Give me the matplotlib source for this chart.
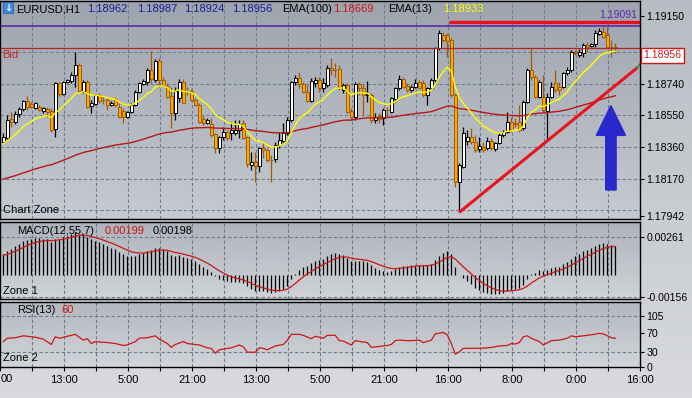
import numpy as np
import pandas as pd
import matplotlib
matplotlib.use('Agg')
import matplotlib.pyplot as plt
from matplotlib.colors import LinearSegmentedColormap
from matplotlib.patches import FancyArrow, Rectangle
from matplotlib.transforms import blended_transform_factory

W, H = 692, 398
FONT = 'Liberation Sans'
FS = 7.6
plt.rcParams['font.family'] = FONT
plt.rcParams['axes.unicode_minus'] = False

# ---- EURUSD H1 candles ----
opens = [
    1.18392, 1.18412, 1.18529, 1.18513, 1.18557, 1.18587, 1.18638, 1.18619, 1.18593, 1.18603,
    1.18579, 1.18587, 1.18579, 1.18467, 1.18744, 1.18680, 1.18754, 1.18758, 1.18794, 1.18855,
    1.18700, 1.18754, 1.18607, 1.18619, 1.18674, 1.18644, 1.18644, 1.18613, 1.18648, 1.18603,
    1.18579, 1.18543, 1.18573, 1.18613, 1.18694, 1.18740, 1.18754, 1.18824, 1.18764, 1.18881,
    1.18764, 1.18728, 1.18668, 1.18563, 1.18654, 1.18754, 1.18698, 1.18698, 1.18644, 1.18613,
    1.18527, 1.18507, 1.18499, 1.18437, 1.18352, 1.18418, 1.18449, 1.18443, 1.18447, 1.18463,
    1.18503, 1.18418, 1.18252, 1.18272, 1.18248, 1.18356, 1.18342, 1.18282, 1.18286, 1.18372,
    1.18398, 1.18443, 1.18523, 1.18750, 1.18774, 1.18738, 1.18694, 1.18640, 1.18744, 1.18764,
    1.18714, 1.18734, 1.18835, 1.18824, 1.18829, 1.18704, 1.18734, 1.18579, 1.18539, 1.18740,
    1.18714, 1.18674, 1.18674, 1.18523, 1.18547, 1.18533, 1.18583, 1.18573, 1.18650, 1.18714,
    1.18768, 1.18730, 1.18704, 1.18724, 1.18750, 1.18744, 1.18674, 1.18714, 1.18764, 1.18955,
    1.19036, 1.19036, 1.19005, 1.18674, 1.18151, 1.18242, 1.18398, 1.18422, 1.18392, 1.18346,
    1.18362, 1.18352, 1.18398, 1.18346, 1.18382, 1.18433, 1.18453, 1.18513, 1.18503, 1.18513,
    1.18473, 1.18634, 1.18824, 1.18784, 1.18664, 1.18664, 1.18579, 1.18664, 1.18744, 1.18724,
    1.18724, 1.18804, 1.18824, 1.18935, 1.18915, 1.18925, 1.18975, 1.18969, 1.18981, 1.19042,
    1.19056, 1.19036, 1.18965, 1.18962]
highs = [
    1.18443, 1.18553, 1.18573, 1.18575, 1.18599, 1.18644, 1.18668, 1.18634, 1.18634, 1.18613,
    1.18599, 1.18599, 1.18593, 1.18754, 1.18754, 1.18758, 1.18772, 1.18814, 1.18935, 1.18869,
    1.18764, 1.18764, 1.18644, 1.18680, 1.18688, 1.18668, 1.18654, 1.18640, 1.18660, 1.18623,
    1.18593, 1.18579, 1.18623, 1.18704, 1.18754, 1.18772, 1.18835, 1.18941, 1.18889, 1.18895,
    1.18780, 1.18744, 1.18724, 1.18724, 1.18768, 1.18768, 1.18724, 1.18708, 1.18654, 1.18623,
    1.18553, 1.18533, 1.18533, 1.18443, 1.18427, 1.18483, 1.18463, 1.18513, 1.18523, 1.18523,
    1.18523, 1.18427, 1.18332, 1.18332, 1.18362, 1.18392, 1.18352, 1.18312, 1.18392, 1.18453,
    1.18503, 1.18543, 1.18758, 1.18794, 1.18814, 1.18754, 1.18734, 1.18774, 1.18784, 1.18784,
    1.18774, 1.18855, 1.18895, 1.18865, 1.18855, 1.18744, 1.18744, 1.18593, 1.18754, 1.18754,
    1.18734, 1.18758, 1.18684, 1.18563, 1.18567, 1.18593, 1.18603, 1.18664, 1.18724, 1.18794,
    1.18784, 1.18744, 1.18734, 1.18768, 1.18764, 1.18764, 1.18724, 1.18774, 1.18965, 1.19066,
    1.19056, 1.19046, 1.19015, 1.18684, 1.18262, 1.18483, 1.18463, 1.18473, 1.18433, 1.18422,
    1.18392, 1.18422, 1.18412, 1.18392, 1.18453, 1.18463, 1.18573, 1.18543, 1.18533, 1.18613,
    1.18644, 1.18835, 1.18955, 1.18794, 1.18764, 1.18794, 1.18684, 1.18754, 1.18825, 1.18754,
    1.18815, 1.18845, 1.18945, 1.18945, 1.18949, 1.18985, 1.18995, 1.18989, 1.19066, 1.19076,
    1.19091, 1.19086, 1.19005, 1.18987]
lows = [
    1.18382, 1.18402, 1.18483, 1.18499, 1.18543, 1.18579, 1.18583, 1.18593, 1.18587, 1.18579,
    1.18567, 1.18543, 1.18453, 1.18422, 1.18668, 1.18672, 1.18744, 1.18748, 1.18724, 1.18694,
    1.18688, 1.18593, 1.18563, 1.18611, 1.18628, 1.18619, 1.18583, 1.18607, 1.18599, 1.18533,
    1.18503, 1.18533, 1.18563, 1.18607, 1.18688, 1.18734, 1.18734, 1.18744, 1.18754, 1.18724,
    1.18728, 1.18654, 1.18473, 1.18523, 1.18634, 1.18623, 1.18674, 1.18640, 1.18607, 1.18507,
    1.18493, 1.18499, 1.18422, 1.18322, 1.18322, 1.18402, 1.18402, 1.18402, 1.18433, 1.18412,
    1.18406, 1.18242, 1.18221, 1.18151, 1.18211, 1.18292, 1.18272, 1.18151, 1.18272, 1.18352,
    1.18382, 1.18433, 1.18513, 1.18734, 1.18714, 1.18684, 1.18634, 1.18634, 1.18724, 1.18694,
    1.18694, 1.18724, 1.18794, 1.18784, 1.18704, 1.18688, 1.18563, 1.18523, 1.18523, 1.18674,
    1.18553, 1.18634, 1.18503, 1.18503, 1.18503, 1.18493, 1.18543, 1.18563, 1.18634, 1.18704,
    1.18714, 1.18694, 1.18694, 1.18714, 1.18708, 1.18664, 1.18613, 1.18704, 1.18754, 1.18945,
    1.18995, 1.18905, 1.18664, 1.18121, 1.17970, 1.18232, 1.18372, 1.18378, 1.18332, 1.18332,
    1.18332, 1.18342, 1.18342, 1.18338, 1.18378, 1.18422, 1.18443, 1.18453, 1.18483, 1.18453,
    1.18463, 1.18623, 1.18764, 1.18654, 1.18654, 1.18573, 1.18402, 1.18654, 1.18694, 1.18674,
    1.18714, 1.18794, 1.18814, 1.18915, 1.18905, 1.18905, 1.18935, 1.18961, 1.18965, 1.19036,
    1.19015, 1.18955, 1.18905, 1.18924]
closes = [
    1.18418, 1.18523, 1.18513, 1.18557, 1.18587, 1.18638, 1.18603, 1.18599, 1.18623, 1.18583,
    1.18593, 1.18571, 1.18463, 1.18744, 1.18680, 1.18754, 1.18764, 1.18794, 1.18855, 1.18700,
    1.18754, 1.18603, 1.18623, 1.18674, 1.18638, 1.18642, 1.18613, 1.18628, 1.18613, 1.18543,
    1.18539, 1.18573, 1.18613, 1.18694, 1.18744, 1.18760, 1.18824, 1.18768, 1.18881, 1.18764,
    1.18734, 1.18664, 1.18563, 1.18698, 1.18754, 1.18628, 1.18696, 1.18644, 1.18613, 1.18513,
    1.18507, 1.18523, 1.18433, 1.18352, 1.18422, 1.18449, 1.18412, 1.18463, 1.18463, 1.18499,
    1.18412, 1.18258, 1.18268, 1.18248, 1.18352, 1.18342, 1.18282, 1.18280, 1.18372, 1.18402,
    1.18443, 1.18523, 1.18750, 1.18774, 1.18738, 1.18694, 1.18640, 1.18760, 1.18764, 1.18714,
    1.18744, 1.18835, 1.18824, 1.18822, 1.18714, 1.18734, 1.18573, 1.18539, 1.18740, 1.18714,
    1.18674, 1.18680, 1.18523, 1.18539, 1.18527, 1.18583, 1.18581, 1.18654, 1.18714, 1.18768,
    1.18724, 1.18704, 1.18724, 1.18748, 1.18714, 1.18674, 1.18714, 1.18764, 1.18955, 1.19046,
    1.19005, 1.19001, 1.18674, 1.18151, 1.18252, 1.18443, 1.18422, 1.18392, 1.18342, 1.18366,
    1.18342, 1.18398, 1.18352, 1.18382, 1.18433, 1.18453, 1.18513, 1.18463, 1.18501, 1.18463,
    1.18634, 1.18824, 1.18780, 1.18660, 1.18754, 1.18583, 1.18664, 1.18724, 1.18704, 1.18704,
    1.18804, 1.18824, 1.18935, 1.18925, 1.18935, 1.18975, 1.18965, 1.18981, 1.19046, 1.19062,
    1.19026, 1.18965, 1.18963, 1.18956]

# indicator starting levels (left edge of the chart)
ema100_start = 1.18161
ema13_start = 1.18372
fast_start, slow_start, signal_start = 1.18275, 1.18145, 0.00130

# RSI(13): candle index, value
rsi_idx = [0, 1, 3, 5, 8, 10, 12, 13, 14, 16, 18, 20, 21, 22, 23, 26, 28, 30, 31, 33,
           34, 36, 37, 38, 39, 41, 42, 43, 45, 46, 49, 51, 52, 53, 54, 56, 57, 59, 60, 61,
           63, 64, 65, 66, 68, 70, 71, 72, 74, 75, 77, 78, 80, 81, 83, 84, 85, 87, 88, 90,
           91, 92, 94, 96, 97, 98, 99, 101, 102, 104, 105, 107, 108, 110, 111, 112, 113, 114, 115, 118,
           121, 122, 124, 126, 127, 128, 129, 130, 131, 132, 134, 135, 137, 139, 141, 142, 143, 145, 147, 149,
           150, 152, 153]
rsi_val = [52, 59, 60, 64, 61, 57, 46, 62, 59, 63, 67, 55, 58, 48, 52, 50, 48, 44, 45, 52,
           59, 60, 62, 64, 57, 48, 40, 46, 52, 48, 45, 39, 38, 28, 35, 38, 39, 45, 41, 30,
           30, 39, 38, 35, 43, 46, 55, 67, 67, 65, 58, 63, 59, 65, 65, 54, 53, 45, 54, 51,
           50, 40, 42, 44, 46, 54, 55, 54, 54, 55, 50, 55, 68, 71, 66, 48, 26, 31, 38, 38,
           39, 40, 43, 44, 48, 47, 50, 62, 64, 59, 52, 45, 54, 55, 59, 64, 62, 64, 66, 69,
           68, 60, 59]

# axis texts
price_ticks = [1.17942, 1.18170, 1.18360, 1.18550, 1.18740, 1.19150]
price_grid = [1.17980, 1.18170, 1.18360, 1.18550, 1.18740, 1.18930]
macd_ticks = [-0.00156, 0.00261]
rsi_ticks = [0, 30, 70, 105]
rsi_grid = [30, 105]
time_labels = ['00', '13:00', '5:00', '21:00', '13:00', '5:00', '21:00',
               '16:00', '8:00', '0:00', '16:00']
day_high = 1.19091
hline_price = 1.19112
trend_from, trend_to = (114.2, 1.17970), (158.4, 1.18836)

# ---- indicators ----


def ema(start, span):
    return pd.Series([start] + closes).ewm(span=span, adjust=False).mean().iloc[1:].values


ema13 = ema(ema13_start, 13)
ema100 = ema(ema100_start, 100)
macd = ema(fast_start, 12) - ema(slow_start, 55)
signal = pd.Series([signal_start] + list(macd)).ewm(span=7, adjust=False).mean().iloc[1:].values

n = len(closes)
idx = np.arange(n)
o, h, l, c = map(np.array, (opens, highs, lows, closes))
XMIN, XMAX = -0.825, 159.175


def fx(px):
    return px / W


def fy(py):
    return 1 - py / H


def shade(ax, top, bottom):
    cmap = LinearSegmentedColormap.from_list('g', [top, bottom])
    ax.imshow(np.linspace(0, 1, 256).reshape(-1, 1), extent=(0, 1, 0, 1),
              transform=ax.transAxes, aspect='auto', cmap=cmap, zorder=0)


def vgrid(ax):
    for k in range(1, 20):
        ax.axvline(8 * k + XMIN, color='#6e7c92', lw=0.8, ls=(0, (3, 2)), zorder=1)


def frame(ax):
    for s in ax.spines.values():
        s.set_color('black')
        s.set_linewidth(1.0)
        s.set_zorder(10)
    ax.yaxis.tick_right()
    ax.tick_params(axis='y', direction='out', length=3, width=0.8, pad=1.5,
                   labelsize=FS, colors='black')
    ax.set_xlim(XMIN, XMAX)


fig = plt.figure(figsize=(W / 100, H / 100), dpi=100)
bg = fig.add_axes([0, 0, 1, 1])
bg.axis('off')
shade(bg, '#b8bcc3', '#d8dadd')

# ---- main price panel ----
ax = fig.add_axes([0, fy(219), fx(640), 218 / H])
shade(ax, '#9ea4ae', '#c6cad0')
frame(ax)
ax.set_ylim(1.17926, 1.19240)
ax.set_xticks([])
ax.set_yticks(price_ticks)
ax.set_yticklabels([f'{p:.5f}' for p in price_ticks])
for g in price_grid:
    ax.axhline(g, color='#6e7c92', lw=0.8, ls=(0, (3, 2)), zorder=1)
vgrid(ax)

bull = c >= o
body_lo = np.minimum(o, c)
body_h = np.maximum(np.abs(c - o), 0.000012)
ax.vlines(idx[bull], l[bull], h[bull], color='black', lw=0.9, zorder=3)
ax.vlines(idx[~bull], l[~bull], h[~bull], color='#a85800', lw=0.9, zorder=3)
ax.bar(idx[bull], body_h[bull], bottom=body_lo[bull], width=0.74,
       color='white', edgecolor='black', lw=0.7, zorder=4)
ax.bar(idx[~bull], body_h[~bull], bottom=body_lo[~bull], width=0.74,
       color='#f2ae00', edgecolor='#a85800', lw=0.7, zorder=4)

ax.plot(idx, ema100, color='#b41818', lw=1.0, zorder=5)
ax.plot(idx, ema13, color='#ffff00', lw=1.0, zorder=5)

ax.axhline(day_high, color='#5a28a8', lw=1.2, zorder=5)
ax.axhline(closes[-1], color='#b02424', lw=0.9, zorder=5)
ax.plot([111.4, XMAX], [hline_price, hline_price], color='#e8101c', lw=2.4,
        solid_capstyle='butt', zorder=6)
ax.plot([trend_from[0], trend_to[0]], [trend_from[1], trend_to[1]],
        color='#e8141e', lw=2.2, solid_capstyle='round', zorder=6)
ax.plot([trend_to[0], XMAX], [trend_to[1], trend_to[1] + 0.00026],
        color='#2e8a2e', lw=1.0, zorder=6)
ax.add_patch(FancyArrow(151.9, 1.18101, 0, 1.18610 - 1.18101, width=2.6,
                        head_width=7.3, head_length=0.00180, length_includes_head=True,
                        color='#2828cc', zorder=7))

yb = blended_transform_factory(ax.transAxes, ax.transData)
ax.annotate(f'{closes[-1]:.5f}', xy=(1, closes[-1]), xycoords=yb, xytext=(2.5, -1.5),
            textcoords='offset points', ha='left', va='top', fontsize=FS, color='#c81818',
            bbox=dict(boxstyle='square,pad=0.22', fc='white', ec='#c81818', lw=1.0),
            annotation_clip=False, zorder=12)
ax.annotate(f'{day_high:.5f}', xy=(1, day_high), xycoords=yb, xytext=(-2, 4),
            textcoords='offset points', ha='right', va='bottom', fontsize=FS,
            color='#5a28a8', zorder=12)
ax.annotate('Bid', xy=(0, closes[-1]), xycoords=yb, xytext=(1.5, -1.5),
            textcoords='offset points', ha='left', va='top',
            fontsize=FS + 0.4, color='#c02828', zorder=12)
ax.text(0.004, 0.02, 'Chart Zone', transform=ax.transAxes, ha='left', va='bottom',
        fontsize=FS + 0.4, color='black', zorder=12)

# ---- MACD panel ----
ax2 = fig.add_axes([0, fy(299), fx(640), 77 / H])
shade(ax2, '#aeb3bb', '#d0d3d7')
frame(ax2)
ax2.set_ylim(-0.00170, 0.00365)
ax2.set_xticks([])
ax2.set_yticks(macd_ticks)
ax2.set_yticklabels([f'{v:.5f}' for v in macd_ticks])
for g in macd_ticks:
    ax2.axhline(g, color='#6e7c92', lw=0.8, ls=(0, (3, 2)), zorder=1)
vgrid(ax2)
ax2.vlines(idx, 0, macd, color='black', lw=0.9, zorder=3)
ax2.plot(idx, signal, color='#c81818', lw=0.9, zorder=4)
ax2.text(0.004, 0.04, 'Zone 1', transform=ax2.transAxes, ha='left', va='bottom',
         fontsize=FS + 0.4, zorder=12)

# ---- RSI panel ----
ax3 = fig.add_axes([0, fy(367), fx(640), 65 / H])
shade(ax3, '#b3b7bf', '#d2d5d9')
frame(ax3)
ax3.set_ylim(-0.6, 134)
ax3.set_yticks(rsi_ticks)
for g in rsi_grid:
    ax3.axhline(g, color='#6e7c92', lw=0.8, ls=(0, (3, 2)), zorder=1)
vgrid(ax3)
ax3.plot(rsi_idx, rsi_val, color='#c81818', lw=0.9, zorder=4)
tick_pos = [8 * k + XMIN for k in range(21)]
ax3.set_xticks(tick_pos)
# first label only shows its tail at the left edge
ax3.set_xticklabels(['' if k == 0 else (time_labels[k // 2] if k % 2 == 0 else '')
                     for k in range(21)])
ax3.tick_params(axis='x', direction='out', length=3, width=0.8, pad=3,
                labelsize=FS + 0.4, colors='black')
ax3.annotate(time_labels[0], xy=(0, 0), xycoords='axes fraction', xytext=(0.5, -5.2),
             textcoords='offset points', ha='left', va='top', fontsize=FS + 0.4)
ax3.text(0.004, 0.06, 'Zone 2', transform=ax3.transAxes, ha='left', va='bottom',
         fontsize=FS + 0.4, zorder=12)


# ---- panel captions ----
def caption(y, parts):
    for px, s, col in parts:
        fig.text(fx(px), fy(y), s, color=col, fontsize=FS + 0.4, ha='left', va='center',
                 zorder=20)


fig.patches.append(Rectangle((fx(3), fy(13)), fx(10), 11 / H, transform=fig.transFigure,
                             fc='#3f88e0', ec='#2a60b0', lw=0.6, zorder=20))
fig.text(fx(8), fy(7.5), '\u2193', color='white', fontsize=7, fontweight='bold',
         ha='center', va='center', family='DejaVu Sans', zorder=21)
caption(9, [(16, 'EURUSD,H1', 'black'), (87, '1.18962', '#1c1c98'),
            (137, '1.18987', '#1c1c98'), (184, '1.18924', '#1c1c98'),
            (232, '1.18956', '#1c1c98'), (282, 'EMA(100)', 'black'),
            (333, '1.18669', '#c81818'), (388, 'EMA(13)', 'black'),
            (443, '1.18933', '#ffff00')])
caption(231, [(17, 'MACD(12,55,7)', 'black'), (105, '0.00199', '#c81818'),
              (153, '0.00198', 'black')])
caption(310, [(17, 'RSI(13)', 'black'), (61, '60', '#c81818')])

fig.savefig('out.png', dpi=100)
